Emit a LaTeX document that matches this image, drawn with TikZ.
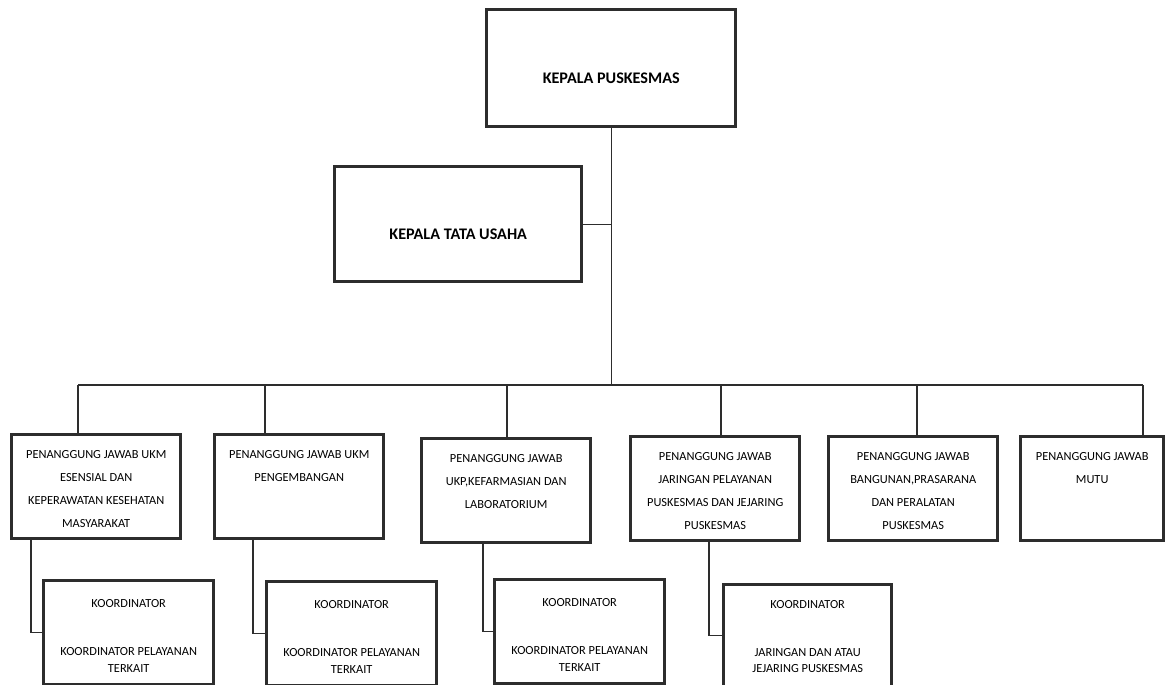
\documentclass[tikz,border=0pt]{standalone}
\usepackage{fontspec}
\setmainfont{Carlito}
\usepackage{tikz}
\usetikzlibrary{positioning}
\definecolor{boxLine}{RGB}{45,45,45}
\newcommand{\boxtxt}[4]{\parbox[c][#2][t]{#1}{\centering\vspace*{#3}#4}}

\begin{document}
\begin{tikzpicture}[x=0.025cm, y=-0.025cm,
        headbox/.style={draw=boxLine, line width=2.4pt, anchor=north west, inner sep=0pt, font=\fontsize{11.5}{13}\selectfont\bfseries},
        pjbox/.style={draw=boxLine, line width=2.4pt, anchor=north west, inner sep=0pt, font=\fontsize{8.8}{16.4}\selectfont},
        kobox/.style={pjbox, font=\fontsize{8.8}{12}\selectfont},
        link/.style={draw=boxLine, line width=0.9pt},
      ]
        \useasboundingbox (0,0) rectangle (1167,685);

        % kepala puskesmas and tata usaha
        \node[headbox] (kp) at (485,8) {\boxtxt{6.225cm}{2.925cm}{45pt}{KEPALA PUSKESMAS}};
        \node[headbox] (ktu) at (333,165) {\boxtxt{6.175cm}{2.875cm}{44pt}{KEPALA TATA USAHA}};

        % penanggung jawab row
        \node[pjbox] (pj1) at (10,433) {\boxtxt{4.225cm}{2.6cm}{11pt}{PENANGGUNG JAWAB UKM\\ESENSIAL DAN\\KEPERAWATAN KESEHATAN\\MASYARAKAT}};
        \node[pjbox] (pj2) at (213,433) {\boxtxt{4.225cm}{2.6cm}{11pt}{PENANGGUNG JAWAB UKM\\PENGEMBANGAN}};
        \node[pjbox] (pj3) at (420,437) {\boxtxt{4.225cm}{2.6cm}{11pt}{PENANGGUNG JAWAB\\UKP,KEFARMASIAN DAN\\LABORATORIUM}};
        \node[pjbox] (pj4) at (629,435) {\boxtxt{4.225cm}{2.6cm}{11pt}{PENANGGUNG JAWAB\\JARINGAN PELAYANAN\\PUSKESMAS DAN JEJARING\\PUSKESMAS}};
        \node[pjbox] (pj5) at (827,435) {\boxtxt{4.225cm}{2.6cm}{11pt}{PENANGGUNG JAWAB\\BANGUNAN,PRASARANA\\DAN PERALATAN\\PUSKESMAS}};
        \node[pjbox] (pj6) at (1019,435) {\boxtxt{3.575cm}{2.6cm}{11pt}{PENANGGUNG JAWAB\\MUTU}};

        % koordinator row
        \node[kobox] (ko1) at (42,579) {\boxtxt{4.25cm}{2.6cm}{13.5pt}{KOORDINATOR\\[22pt]KOORDINATOR PELAYANAN\\TERKAIT}};
        \node[kobox] (ko2) at (265,580) {\boxtxt{4.25cm}{2.6cm}{13.5pt}{KOORDINATOR\\[22pt]KOORDINATOR PELAYANAN\\TERKAIT}};
        \node[kobox] (ko3) at (493,578) {\boxtxt{4.25cm}{2.6cm}{13.5pt}{KOORDINATOR\\[22pt]KOORDINATOR PELAYANAN\\TERKAIT}};
        \node[kobox] (ko4) at (722,583) {\boxtxt{4.2cm}{2.55cm}{11pt}{KOORDINATOR\\[22pt]JARINGAN DAN ATAU\\JEJARING PUSKESMAS}};

        % trunk and bus
        \coordinate (bus1) at (78,385);
        \coordinate (bus2) at (265,385);
        \coordinate (bus3) at (507,385);
        \coordinate (bus4) at (721,385);
        \coordinate (bus5) at (917,385);
        \coordinate (bus6) at (1143,385);
        \draw[link] (kp.south) -- (kp.south |- bus1);
        \draw[link] (ktu.east) -- (ktu.east -| kp.south);
        \draw[link] (bus1) -- (bus6);
        \foreach \i in {1,...,6}
          \draw[link] (bus\i) -- (bus\i |- pj\i.north);

        % down to koordinator
        \coordinate (down1) at (31,0);
        \coordinate (down2) at (253,0);
        \coordinate (down3) at (483,0);
        \coordinate (down4) at (709,0);
        \foreach \i in {1,...,4}
          \draw[link] (down\i |- pj\i.south) |- (ko\i.west);
      \end{tikzpicture}
\end{document}
